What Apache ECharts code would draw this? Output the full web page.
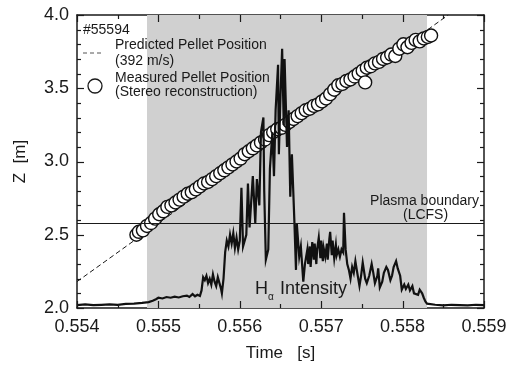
<!DOCTYPE html>
<html>
<head>
<meta charset="utf-8">
<script src="https://cdn.jsdelivr.net/npm/echarts@6/dist/echarts.min.js"></script>
<style>
  html, body { margin: 0; padding: 0; background: #fff; }
  #chart { width: 519px; height: 367px; }
</style>
</head>
<body>
<div id="chart"></div>
<script>
// predicted pellet trajectory (392 m/s)
var predTime = [0.55400, 0.55856];
var predZ = [2.18, 4.00];

// measured pellet positions (stereo reconstruction)
var measTime = [0.55473, 0.55476, 0.55481, 0.55486, 0.55491, 0.55496, 0.55501, 0.55506, 0.55511, 0.55516,
  0.55521, 0.55526, 0.55531, 0.55536, 0.55541, 0.55546, 0.55551, 0.55556, 0.55561, 0.55566,
  0.55571, 0.55576, 0.55581, 0.55586, 0.55591, 0.55596, 0.55601, 0.55606, 0.55611, 0.55616,
  0.55621, 0.55626, 0.55631, 0.55636, 0.55641, 0.55646, 0.55651, 0.55656, 0.55661, 0.55666,
  0.55671, 0.55676, 0.55681, 0.55686, 0.55691, 0.55696, 0.55701, 0.55706, 0.55711, 0.55716,
  0.55721, 0.55726, 0.55731, 0.55736, 0.55741, 0.55746, 0.55751, 0.55754, 0.55756, 0.55761,
  0.55766, 0.55771, 0.55776, 0.55781, 0.55786, 0.55791, 0.55796, 0.55801, 0.55806, 0.55811,
  0.55816, 0.55821, 0.55826, 0.55831, 0.55835];
var measZ = [2.50, 2.52, 2.53, 2.56, 2.58, 2.61, 2.64, 2.66, 2.69, 2.70,
  2.72, 2.74, 2.76, 2.78, 2.79, 2.81, 2.83, 2.85, 2.86, 2.88,
  2.90, 2.92, 2.94, 2.96, 2.98, 3.00, 3.02, 3.05, 3.07, 3.09,
  3.11, 3.13, 3.15, 3.18, 3.20, 3.22, 3.23, 3.25, 3.27, 3.29,
  3.31, 3.33, 3.35, 3.36, 3.38, 3.39, 3.41, 3.43, 3.46, 3.49,
  3.52, 3.53, 3.55, 3.56, 3.58, 3.60, 3.62, 3.54, 3.64, 3.65,
  3.67, 3.68, 3.70, 3.71, 3.73, 3.72, 3.77, 3.80, 3.78, 3.81,
  3.83, 3.82, 3.84, 3.85, 3.86];

// H-alpha intensity trace (drawn on Z scale)
var haTime = [0.55400, 0.55410, 0.55420, 0.55430, 0.55440, 0.55450, 0.55460, 0.55470, 0.55480, 0.55488, 0.55493,
  0.55497, 0.55500, 0.55505, 0.55510, 0.55515, 0.55520, 0.55525, 0.55530, 0.55535, 0.55538, 0.55542, 0.55545, 0.55548, 0.55551,
  0.55553, 0.55555, 0.55557, 0.55559, 0.55561, 0.55563, 0.55565, 0.55567, 0.55569, 0.55571, 0.55573, 0.55575, 0.55577, 0.55578,
  0.55580, 0.55582, 0.55584, 0.55586, 0.55588, 0.55590, 0.55592, 0.55594, 0.55596, 0.55598, 0.55600,
  0.55602, 0.55604, 0.55608, 0.55610, 0.55612, 0.55616, 0.55619, 0.55621, 0.55624, 0.55626, 0.55629, 0.55630, 0.55632,
  0.55635, 0.55637, 0.55640, 0.55642, 0.55644, 0.55647, 0.55648, 0.55650, 0.55652, 0.55654, 0.55655, 0.55658, 0.55660,
  0.55662, 0.55664, 0.55667, 0.55669, 0.55670, 0.55673, 0.55675, 0.55678, 0.55680,
  0.55683, 0.55684, 0.55686, 0.55687, 0.55689, 0.55691, 0.55692, 0.55694, 0.55695, 0.55697, 0.55699, 0.55700,
  0.55702, 0.55703, 0.55705, 0.55707, 0.55708, 0.55710, 0.55711, 0.55713, 0.55714, 0.55716, 0.55718, 0.55719,
  0.55721, 0.55723, 0.55725, 0.55727, 0.55728, 0.55730, 0.55732, 0.55734, 0.55736, 0.55738, 0.55740, 0.55742,
  0.55744, 0.55747, 0.55749, 0.55751, 0.55754, 0.55756, 0.55759, 0.55762, 0.55764, 0.55766, 0.55769, 0.55770,
  0.55772, 0.55775, 0.55777, 0.55780, 0.55782, 0.55785, 0.55787, 0.55789, 0.55792, 0.55794, 0.55797, 0.55799,
  0.55802, 0.55804, 0.55807, 0.55809, 0.55812, 0.55814, 0.55816, 0.55819, 0.55821, 0.55824, 0.55826, 0.55828,
  0.55830, 0.55832, 0.55840, 0.55850, 0.55860, 0.55870, 0.55880, 0.55890, 0.55900];
var haZ = [2.020, 2.025, 2.020, 2.022, 2.025, 2.022, 2.028, 2.030, 2.035, 2.040, 2.050,
  2.060, 2.070, 2.065, 2.075, 2.070, 2.078, 2.072, 2.080, 2.085, 2.075, 2.095, 2.080, 2.090, 2.082,
  2.12, 2.21, 2.19, 2.22, 2.17, 2.20, 2.16, 2.23, 2.18, 2.15, 2.21, 2.17, 2.13, 2.10,
  2.20, 2.38, 2.46, 2.42, 2.50, 2.44, 2.51, 2.41, 2.48, 2.40, 2.46,
  2.82, 2.42, 2.50, 2.85, 2.55, 2.90, 2.58, 2.88, 2.70, 3.20, 3.30, 2.80, 2.33,
  2.40, 2.95, 3.20, 2.90, 3.35, 3.66, 3.05, 3.45, 3.77, 3.25, 3.70, 3.10, 3.35,
  2.76, 3.05, 2.60, 2.26, 2.58, 2.35, 2.42, 2.18, 2.30,
  2.40, 2.30, 2.42, 2.28, 2.45, 2.33, 2.44, 2.30, 2.40, 2.48, 2.34, 2.46,
  2.32, 2.41, 2.35, 2.44, 2.33, 2.47, 2.52, 2.36, 2.46, 2.34, 2.43, 2.36,
  2.40, 2.35, 2.40, 2.38, 2.65, 2.40, 2.30, 2.26, 2.20, 2.28, 2.24, 2.32,
  2.25, 2.15, 2.22, 2.31, 2.20, 2.17, 2.22, 2.30, 2.24, 2.17, 2.22, 2.27,
  2.14, 2.18, 2.24, 2.28, 2.26, 2.19, 2.22, 2.28, 2.32, 2.27, 2.22, 2.125,
  2.16, 2.13, 2.16, 2.12, 2.15, 2.10, 2.11, 2.09, 2.125, 2.10, 2.07, 2.045,
  2.030, 2.020, 2.022, 2.018, 2.022, 2.020, 2.018, 2.022, 2.020];

var shadeRange = [0.55486, 0.55830];
var lcfsZ = 2.58;

// axis ranges and tick positions
var xTicks = { min: 0.554, max: 0.559, step: 0.001 };
var yTicks = { min: 2.0, max: 4.0, step: 0.5 };
var xMajor = [0.554, 0.555, 0.556, 0.557, 0.558, 0.559];
var xMinor = [0.5545, 0.5555, 0.5565, 0.5575, 0.5585];
var yMajor = [2.0, 2.5, 3.0, 3.5, 4.0];
var yMinor = [2.1, 2.2, 2.3, 2.4, 2.6, 2.7, 2.8, 2.9, 3.1, 3.2, 3.3, 3.4, 3.6, 3.7, 3.8, 3.9];

function pairs(xs, ys) {
  return xs.map(function (x, i) { return [x, ys[i]]; });
}

var font = 'Liberation Sans, Arial, sans-serif';
var ink = '#1a1a1a';

function axisBase(pos, isX, showLabel) {
  return {
    type: 'value',
    position: pos,
    min: isX ? xTicks.min : yTicks.min,
    max: isX ? xTicks.max : yTicks.max,
    interval: isX ? xTicks.step : yTicks.step,
    axisLine: { show: true, onZero: false, lineStyle: { color: ink, width: 1.5 } },
    axisTick: { show: false },
    splitLine: { show: false },
    axisLabel: {
      show: showLabel,
      color: ink,
      fontFamily: font,
      fontSize: 18,
      margin: isX ? 10 : 8,
      formatter: function (v) { return isX ? v.toFixed(3) : v.toFixed(1); }
    }
  };
}

var chart = echarts.init(document.getElementById('chart'), null, { renderer: 'canvas' });

var xBottom = axisBase('bottom', true, true);
xBottom.name = 'Time   [s]';
xBottom.nameLocation = 'middle';
xBottom.nameGap = 37;
xBottom.nameTextStyle = { color: ink, fontFamily: font, fontSize: 17 };
var xTop = axisBase('top', true, false);

var yLeft = axisBase('left', false, true);
yLeft.name = 'Z  [m]';
yLeft.nameLocation = 'middle';
yLeft.nameGap = 48;
yLeft.nameTextStyle = { color: ink, fontFamily: font, fontSize: 17 };
var yRight = axisBase('right', false, false);

var txt = { fontFamily: font, fill: ink, fontSize: 14 };

var labels = [
  { type: 'text', left: 83, top: 23, z: 10, style: Object.assign({ text: '#55594' }, txt) },
  { type: 'line', z: 10, shape: { x1: 83, y1: 53, x2: 104, y2: 53 },
    style: { stroke: '#555', lineWidth: 1, lineDash: [4, 3] } },
  { type: 'text', left: 115, top: 38, z: 10, style: Object.assign({ text: 'Predicted Pellet Position' }, txt) },
  { type: 'text', left: 115, top: 54, z: 10, style: Object.assign({ text: '(392 m/s)' }, txt) },
  { type: 'circle', z: 10, shape: { cx: 95, cy: 86, r: 7 },
    style: { fill: '#fff', stroke: ink, lineWidth: 1.3 } },
  { type: 'text', left: 115, top: 71, z: 10, style: Object.assign({ text: 'Measured Pellet Position' }, txt) },
  { type: 'text', left: 115, top: 85, z: 10, style: Object.assign({ text: '(Stereo reconstruction)' }, txt) },
  { type: 'text', right: 40, top: 194, z: 10, style: Object.assign({ text: 'Plasma boundary' }, txt) },
  { type: 'text', left: 403, top: 208, z: 10, style: Object.assign({ text: '(LCFS)' }, txt) },
  { type: 'text', left: 255, top: 280, z: 10, style: { text: 'H', fontFamily: font, fill: ink, fontSize: 18 } },
  { type: 'text', left: 268, top: 292, z: 10, style: { text: 'α', fontFamily: font, fill: ink, fontSize: 10 } },
  { type: 'text', left: 280, top: 280, z: 10, style: { text: 'Intensity', fontFamily: font, fill: ink, fontSize: 18 } }
];

chart.setOption({
  animation: false,
  backgroundColor: '#fff',
  grid: { left: 77, right: 35, top: 15, bottom: 59 },
  xAxis: [xBottom, xTop],
  yAxis: [yLeft, yRight],
  series: [
    {
      type: 'line',
      data: [],
      z: 1,
      silent: true,
      markArea: {
        silent: true,
        itemStyle: { color: '#d0d0d0' },
        data: [[{ xAxis: shadeRange[0] }, { xAxis: shadeRange[1] }]]
      },
      markLine: {
        silent: true,
        symbol: 'none',
        label: { show: false },
        lineStyle: { color: ink, width: 1, type: 'solid' },
        data: [{ yAxis: lcfsZ }]
      }
    },
    {
      name: 'Predicted',
      type: 'line',
      z: 2,
      silent: true,
      symbol: 'none',
      data: pairs(predTime, predZ),
      lineStyle: { color: ink, width: 1, type: [5, 3] }
    },
    {
      name: 'Measured',
      type: 'scatter',
      z: 3,
      silent: true,
      symbol: 'circle',
      symbolSize: 13,
      data: pairs(measTime, measZ),
      itemStyle: { color: '#fff', borderColor: '#111', borderWidth: 1.4, opacity: 1 }
    },
    {
      name: 'Halpha',
      type: 'line',
      z: 4,
      silent: true,
      symbol: 'none',
      data: pairs(haTime, haZ),
      lineStyle: { color: '#111', width: 2.2, join: 'miter' }
    }
  ],
  graphic: labels
});

// inward ticks on all four sides, placed with the chart's own scales
function tickLines() {
  var out = [];
  var st = { stroke: ink, lineWidth: 1.2 };
  var yBot = chart.convertToPixel({ yAxisIndex: 0 }, yTicks.min);
  var yTop = chart.convertToPixel({ yAxisIndex: 0 }, yTicks.max);
  var xL = chart.convertToPixel({ xAxisIndex: 0 }, xTicks.min);
  var xR = chart.convertToPixel({ xAxisIndex: 0 }, xTicks.max);
  function seg(x1, y1, x2, y2) {
    out.push({ type: 'line', z: 12, silent: true, shape: { x1: x1, y1: y1, x2: x2, y2: y2 }, style: st });
  }
  function addX(v, len) {
    var px = Math.round(chart.convertToPixel({ xAxisIndex: 0 }, v)) + 0.5;
    seg(px, yBot, px, yBot - len);
    seg(px, yTop, px, yTop + len);
  }
  function addY(v, len) {
    var py = Math.round(chart.convertToPixel({ yAxisIndex: 0 }, v)) + 0.5;
    seg(xL, py, xL + len, py);
    seg(xR, py, xR - len, py);
  }
  xMajor.forEach(function (v) { addX(v, 7); });
  xMinor.forEach(function (v) { addX(v, 4); });
  yMajor.forEach(function (v) { addY(v, 7); });
  yMinor.forEach(function (v) { addY(v, 4); });
  return out;
}

chart.setOption({ graphic: labels.concat(tickLines()) });
</script>
</body>
</html>
